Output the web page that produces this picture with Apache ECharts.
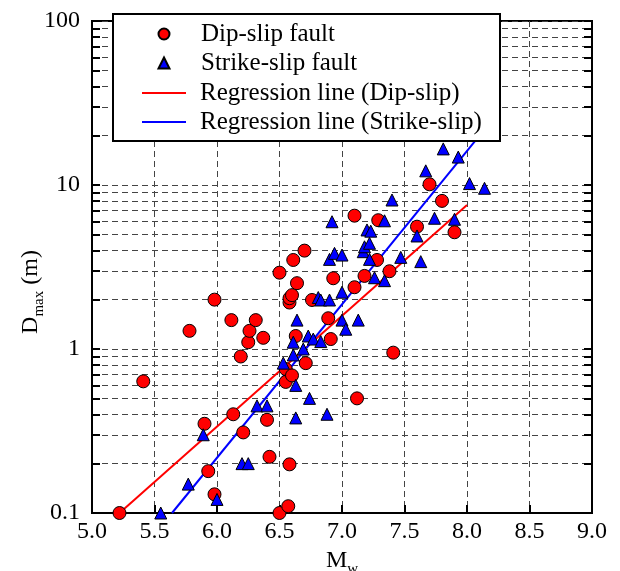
<!DOCTYPE html>
<html><head><meta charset="utf-8">
<script src="https://cdn.jsdelivr.net/npm/echarts@6/dist/echarts.min.js"></script>
<style>html,body{margin:0;padding:0;background:#fff}#c{width:620px;height:571px}</style>
</head><body><div id="c"></div>
<script>
// Dip-slip fault data (Mw, Dmax in m)
const dipM = [5.22,5.41,5.78,5.90,5.93,5.98,5.98,6.115,6.13,6.19,6.21,6.25,6.26,6.31,6.37,6.40,6.42,6.50,6.57,6.58,6.50,6.55,6.55,6.60,6.58,6.58,6.60,6.61,6.63,6.64,6.70,6.71,6.76,6.89,6.91,6.93,7.10,7.10,7.12,7.18,7.28,7.29,7.38,7.41,7.60,7.70,7.80,7.90];
const dipD = [0.10,0.635,1.29,0.35,0.18,0.13,2.0,1.50,0.40,0.90,0.31,1.10,1.29,1.50,1.17,0.37,0.22,0.10,0.11,0.198,2.92,0.755,0.63,0.69,1.92,2.04,2.13,3.49,1.20,2.52,3.98,0.82,1.99,1.54,1.15,2.70,2.38,6.5,0.50,2.79,3.49,6.1,2.98,0.95,5.57,10.1,8.0,5.15];
// Strike-slip fault data
const strikeM = [5.55,5.77,5.89,6.00,6.20,6.25,6.32,6.40,6.53,6.61,6.61,6.63,6.63,6.64,6.69,6.73,6.74,6.77,6.81,6.83,6.83,6.88,6.90,6.90,6.92,6.94,7.00,7.00,7.00,7.03,7.13,7.17,7.18,7.20,7.22,7.22,7.23,7.26,7.34,7.34,7.40,7.47,7.60,7.63,7.67,7.74,7.81,7.90,7.93,8.02,8.14];
const strikeD = [0.10,0.15,0.30,0.121,0.20,0.20,0.45,0.45,0.82,0.92,1.10,0.60,0.38,1.50,1.00,1.20,0.50,1.15,2.06,1.99,1.11,0.40,1.99,3.52,5.97,3.83,3.74,2.22,1.50,1.32,1.50,3.92,4.2,5.32,4.41,3.52,5.23,2.72,2.61,6.05,8.1,3.62,4.89,3.41,12.2,6.27,16.6,6.18,14.8,10.2,9.55];
// Regression lines (end points)
const dipLineM = [5.22, 8.0];
const dipLineD = [0.1, 7.55];
const strikeLineM = [5.64, 8.1];
const strikeLineD = [0.1, 20.0];
// Axis ticks
const yLabelValues = [0.1, 1, 10, 100];
const yTickValues = [0.1,0.2,0.3,0.4,0.5,0.6,0.7,0.8,0.9,1,2,3,4,5,6,7,8,9,10,20,30,40,50,60,70,80,90,100];
const xMin = 5.0, xMax = 9.0, xStep = 0.5;
const names = ['Dip-slip fault','Strike-slip fault','Regression line (Dip-slip)','Regression line (Strike-slip)'];

const FONT = "'Liberation Serif', 'Times New Roman', serif";
const zip = (a, b) => a.map((v, i) => [v, b[i]]);
const chart = echarts.init(document.getElementById('c'));
const dashStyle = { color: '#444', width: 1, type: [6, 4] };
const richName = {
  d: { fontSize: 24, fontFamily: FONT, color: '#000' },
  s: { fontSize: 15, fontFamily: FONT, color: '#000', padding: [18, 0, 0, 0] }
};
chart.setOption({
  animation: false,
  backgroundColor: '#fff',
  textStyle: { fontFamily: FONT },
  grid: { left: 92, right: 28, top: 21, bottom: 58, containLabel: false, outerBoundsMode: 'none', show: true, borderColor: '#000', borderWidth: 2, backgroundColor: 'transparent' },
  xAxis: {
    type: 'value', min: xMin, max: xMax, interval: xStep,
    axisLine: { show: true, onZero: false, lineStyle: { color: '#000', width: 2 } },
    axisTick: { show: true, inside: true, length: 8, lineStyle: { color: '#000', width: 2 } },
    axisLabel: { margin: 7, color: '#000', fontFamily: FONT, fontSize: 24, formatter: v => v.toFixed(1) },
    splitLine: { show: true, lineStyle: dashStyle },
    name: '{d|M}{s|w}', nameLocation: 'middle', nameGap: 31, nameMoveOverlap: false,
    nameTextStyle: { color: '#000', fontFamily: FONT, rich: richName }
  },
  yAxis: [{
    type: 'log', logBase: 10, min: 0.1, max: 100,
    axisLine: { show: true, onZero: false, lineStyle: { color: '#000', width: 2 } },
    axisTick: { show: true, inside: true, length: 8, customValues: yTickValues, lineStyle: { color: '#000', width: 2 } },
    axisLabel: { margin: 12, color: '#000', fontFamily: FONT, fontSize: 24, customValues: yLabelValues, formatter: v => String(v) },
    splitLine: { show: true, lineStyle: dashStyle },
    name: '{d|D}{s|max}{d| (m)}', nameLocation: 'middle', nameGap: 45, nameRotate: 90, nameMoveOverlap: false,
    nameTextStyle: { color: '#000', fontFamily: FONT, padding: [0, 50, 0, 0], rich: richName }
  }, {
    type: 'log', logBase: 10, min: 0.1, max: 100, position: 'right',
    axisLine: { show: true, onZero: false, lineStyle: { color: '#000', width: 2 } },
    axisTick: { show: true, inside: true, length: 8, customValues: yTickValues, lineStyle: { color: '#000', width: 2 } },
    axisLabel: { show: false }, splitLine: { show: false }
  }],
  legend: [{
    data: [names[0], names[1]], orient: 'vertical', left: 157.5, top: 21, itemWidth: 11, itemHeight: 11, itemGap: 3, padding: 0, z: 20,
    textStyle: { fontFamily: FONT, fontSize: 25, color: '#000', lineHeight: 26, padding: [0, 0, 0, 26.5] }
  }, {
    data: [{ name: names[2], icon: 'rect' }, { name: names[3], icon: 'rect' }], orient: 'vertical', left: 142, top: 80, itemWidth: 44, itemHeight: 2, itemGap: 3, padding: 0, z: 20,
    textStyle: { fontFamily: FONT, fontSize: 25, color: '#000', lineHeight: 26, padding: [0, 0, 0, 9] }
  }],
  graphic: [{ type: 'rect', z: 10, shape: { x: 113, y: 14, width: 387, height: 127 }, style: { fill: '#fff', stroke: '#000', lineWidth: 2 } }],
  series: [
    { name: names[0], type: 'scatter', symbol: 'circle', symbolSize: 13, data: zip(dipM, dipD), z: 5,
      itemStyle: { color: '#ff0000', borderColor: '#000', borderWidth: 1, opacity: 1 } },
    { name: names[1], type: 'scatter', symbol: 'triangle', symbolSize: 12, data: zip(strikeM, strikeD), z: 5,
      itemStyle: { color: '#0000ff', borderColor: '#000', borderWidth: 1, opacity: 1 } },
    { name: names[2], type: 'line', symbol: 'none', data: zip(dipLineM, dipLineD), z: 4,
      lineStyle: { color: '#ff0000', width: 2 }, itemStyle: { color: '#ff0000' } },
    { name: names[3], type: 'line', symbol: 'none', data: zip(strikeLineM, strikeLineD), z: 4,
      lineStyle: { color: '#0000ff', width: 2 }, itemStyle: { color: '#0000ff' } }
  ]
});
</script></body></html>
